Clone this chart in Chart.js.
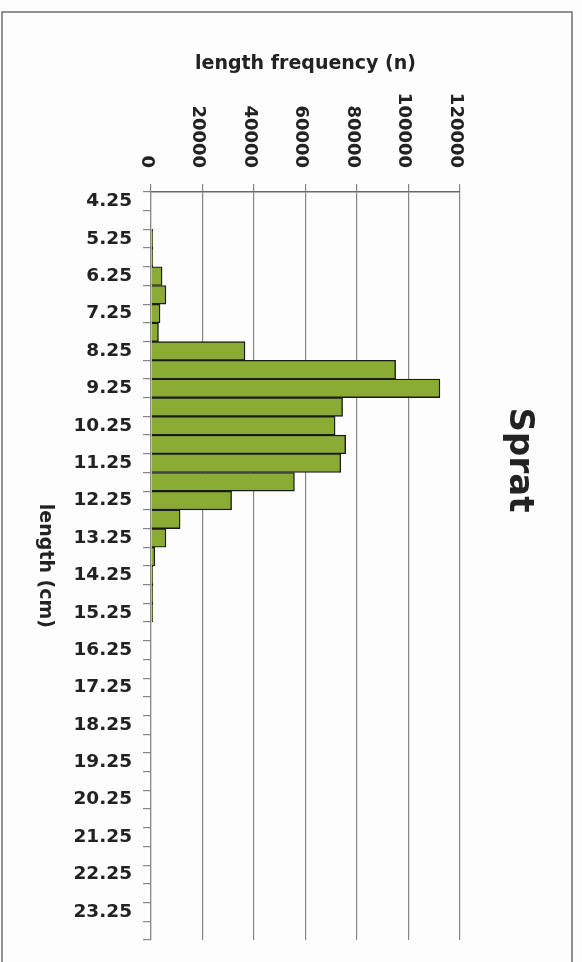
<!DOCTYPE html>
<html>
<head>
<meta charset="utf-8">
<title>Sprat length frequency</title>
<script src="https://cdn.jsdelivr.net/npm/chart.js@4/dist/chart.umd.min.js"></script>
<style>
  html, body { margin: 0; padding: 0; background: #ffffff; }
  #wrap { width: 582px; height: 962px; }
</style>
</head>
<body>
<div id="wrap"><canvas id="sprat-chart" width="582" height="962"></canvas></div>
<script>
'use strict';

// length classes (cm), half-cm bins
var lengthLabels = ['4.25', '4.75', '5.25', '5.75', '6.25', '6.75', '7.25', '7.75',
  '8.25', '8.75', '9.25', '9.75', '10.25', '10.75', '11.25', '11.75',
  '12.25', '12.75', '13.25', '13.75', '14.25', '14.75', '15.25', '15.75',
  '16.25', '16.75', '17.25', '17.75', '18.25', '18.75', '19.25', '19.75',
  '20.25', '20.75', '21.25', '21.75', '22.25', '22.75', '23.25', '23.75'];

// length frequency (n)
var spratCounts = [0, 0, 700, 700, 4300, 5800, 3500, 2900,
  36500, 95000, 112200, 74400, 71500, 75600, 73700, 55700,
  31300, 11300, 5800, 1500, 700, 700, 700, 0,
  0, 0, 0, 0, 0, 0, 0, 0,
  0, 0, 0, 0, 0, 0, 0, 0];

var valueTicks = [0, 20000, 40000, 60000, 80000, 100000, 120000];

var FONT = 'DejaVu Sans';
var TEXT = '#222222';
var GRID = '#858585';

// rotated texts (read top to bottom) + frame of the scanned figure
var scanText = {
  id: 'scanText',
  beforeDraw: function (chart) {
    var ctx = chart.ctx;
    ctx.save();
    ctx.fillStyle = '#fdfdfd';
    ctx.fillRect(0, 0, chart.width, chart.height);
    ctx.strokeStyle = '#6e6e6e';
    ctx.lineWidth = 1.5;
    ctx.strokeRect(2, 12, 570, 990);
    ctx.restore();
  },
  afterDraw: function (chart) {
    var ctx = chart.ctx;
    var xs = chart.scales.x;
    var area = chart.chartArea;
    ctx.save();
    ctx.fillStyle = TEXT;
    ctx.textBaseline = 'alphabetic';

    // value tick labels
    ctx.font = 'bold 18px "' + FONT + '"';
    ctx.textAlign = 'right';
    valueTicks.forEach(function (v) {
      ctx.save();
      ctx.translate(xs.getPixelForValue(v) - 9.5, 168);
      ctx.rotate(Math.PI / 2);
      ctx.fillText(String(v), 0, 0);
      ctx.restore();
    });

    // category axis title
    ctx.textAlign = 'center';
    ctx.font = 'bold 19px "' + FONT + '"';
    ctx.save();
    ctx.translate(40, (area.top + area.bottom) / 2);
    ctx.rotate(Math.PI / 2);
    ctx.fillText('length (cm)', 0, 0);
    ctx.restore();

    // species name
    ctx.font = 'bold 34px "' + FONT + '"';
    ctx.save();
    ctx.translate(510, 460);
    ctx.rotate(Math.PI / 2);
    ctx.fillText('Sprat', 0, 0);
    ctx.restore();

    ctx.restore();
  }
};

createSpratChart();

function createSpratChart() {
  var ctx = document.getElementById('sprat-chart');
  var spratChart = new Chart(ctx, {
    type: 'bar',
    data: {
      labels: lengthLabels,
      datasets: [
        {
          label: 'Sprat',
          data: spratCounts,
          backgroundColor: '#8aab34',
          borderColor: '#1c1c1c',
          borderWidth: 1.4,
          barPercentage: 1,
          categoryPercentage: 1
        }]
    },
    options: {
      indexAxis: 'y',
      responsive: false,
      animation: false,
      layout: {
        padding: { left: 0, top: 0, right: 122, bottom: 18 }
      },
      plugins: {
        legend: { display: false },
        tooltip: { enabled: false },
        title: { display: false }
      },
      scales: {
        x: {
          position: 'top',
          min: valueTicks[0],
          max: valueTicks[valueTicks.length - 1],
          ticks: {
            stepSize: valueTicks[1] - valueTicks[0],
            display: false
          },
          grid: {
            color: GRID,
            lineWidth: 1.2,
            drawTicks: true,
            tickLength: 8
          },
          border: { display: true, color: '#6a6a6a', width: 1.4 },
          title: {
            display: true,
            text: 'length frequency (n)',
            color: TEXT,
            font: { family: FONT, weight: 'bold', size: 19 },
            padding: { top: 53, bottom: 0 }
          },
          afterFit: function (scale) { scale.height = 192; }
        },
        y: {
          position: 'left',
          ticks: {
            autoSkip: false,
            padding: 11,
            color: TEXT,
            font: { family: FONT, weight: 'bold', size: 18.5 },
            callback: function (value, index) {
              return index % 2 === 0 ? lengthLabels[index] : '';
            }
          },
          grid: {
            offset: true,
            drawOnChartArea: false,
            drawTicks: true,
            tickLength: 8,
            color: GRID,
            lineWidth: 1.2
          },
          border: { display: true, color: '#8a8a8a', width: 1.2 },
          afterFit: function (scale) { scale.width = 151; }
        }
      }
    },
    plugins: [scanText]
  });
}
</script>
</body>
</html>
